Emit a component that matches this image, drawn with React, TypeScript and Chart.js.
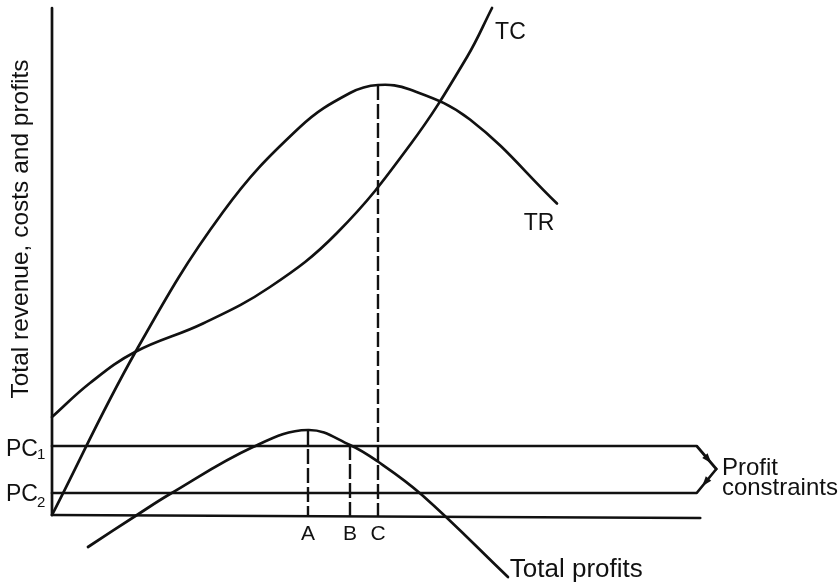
import React, { useEffect, useRef } from "react";
import { Chart, registerables } from "chart.js";

Chart.register(...registerables);

// Quantity (x) and value (y) readings, in arbitrary diagram units
const TR_X = [0, 12, 24.43, 35.43, 42.57, 46.57, 51.14, 59.71, 72.14];
const TR_Y = [0, 32.8, 60.6, 77.6, 84.4, 86, 85.1, 79.1, 62.3];

const TC_X = [0, 5.43, 11.86, 21.57, 31.14, 40.71, 51.14, 59.29, 62.86];
const TC_Y = [19.6, 26.4, 32.6, 38.3, 45.6, 56.4, 74, 91.6, 101.4];

const PROFIT_X = [5.14, 12.14, 16.86, 28.71, 36.57, 42.57, 46.43, 52.86, 65.14];
const PROFIT_Y = [-6.4, 0, 4.2, 13.6, 17, 14, 10.8, 4, -12.4];

const PC1 = 13.8;
const PC2 = 4.4;
const CONSTRAINT_END_X = 92.1;
const BRACKET_TIP = { x: 94.9, y: 9.2 };
const AXIS_TOP = 101.4;
const BASELINE_END = { x: 92.6, y: -0.6 };

const DROP_X = [36.57, 42.57, 46.57];
const DROP_TOP = [17, 14, 86];
const DROP_LABELS = ["A", "B", "C"];

const Y_TITLE = "Total revenue, costs and profits";

const pts = (xs: number[], ys: number[]) => xs.map((x, i) => ({ x, y: ys[i] }));

const solid = (data: { x: number; y: number }[], smooth = false) => ({
  data,
  showLine: true,
  borderColor: "#111",
  borderWidth: 2.7,
  pointRadius: 0,
  fill: false,
  clip: false as any,
  tension: smooth ? 0.4 : 0,
  borderCapStyle: "round" as const,
  borderJoinStyle: "round" as const,
});

const dashed = (data: { x: number; y: number }[]) => ({
  ...solid(data),
  borderWidth: 2.4,
  borderDash: [15, 4],
  borderCapStyle: "butt" as const,
});

const annotationPlugin = {
  id: "diagramText",
  afterDatasetsDraw(chart: any) {
    const { ctx } = chart;
    const xs = chart.scales.x;
    const ys = chart.scales.y;
    const px = (v: number) => xs.getPixelForValue(v);
    const py = (v: number) => ys.getPixelForValue(v);
    ctx.save();
    ctx.fillStyle = "#111";
    ctx.textBaseline = "alphabetic";
    const font = (s: number) => `${s}px "Liberation Sans", Arial, sans-serif`;

    // curve labels
    ctx.textAlign = "left";
    ctx.font = font(23);
    ctx.fillText("TC", px(63.3), py(95.2));
    ctx.fillText("TR", px(67.4), py(57));
    ctx.font = font(26);
    ctx.fillText("Total profits", px(65.4), py(-12.4));
    ctx.font = font(24);
    ctx.fillText("Profit", px(95.7), py(8));
    ctx.fillText("constraints", px(95.7), py(4));

    // PC labels
    ctx.font = font(23);
    ctx.fillText("PC", 6, py(PC1) + 10);
    ctx.fillText("PC", 6, py(PC2) + 8);
    ctx.font = font(15);
    ctx.fillText("1", 37, py(PC1) + 13);
    ctx.fillText("2", 37, py(PC2) + 14);

    // A, B, C
    ctx.textAlign = "center";
    ctx.font = font(21);
    DROP_X.forEach((x, i) => ctx.fillText(DROP_LABELS[i], px(x), py(-4.9)));

    // y title
    ctx.save();
    ctx.translate(21, 229);
    ctx.rotate(-Math.PI / 2);
    ctx.textAlign = "center";
    ctx.textBaseline = "middle";
    ctx.font = font(24.5);
    ctx.fillText(Y_TITLE, 0, 0);
    ctx.restore();

    // arrowheads on bracket
    const head = (fx: number, fy: number, tx: number, ty: number, t: number) => {
      const ax = px(fx), ay = py(fy), bx = px(tx), by = py(ty);
      const hx = ax + (bx - ax) * t, hy = ay + (by - ay) * t;
      const len = Math.hypot(bx - ax, by - ay);
      const ux = (bx - ax) / len, uy = (by - ay) / len;
      const L = 10, W = 3.5;
      ctx.beginPath();
      ctx.moveTo(hx, hy);
      ctx.lineTo(hx - ux * L - uy * W, hy - uy * L + ux * W);
      ctx.lineTo(hx - ux * L + uy * W, hy - uy * L - ux * W);
      ctx.closePath();
      ctx.fill();
    };
    head(CONSTRAINT_END_X, PC1, BRACKET_TIP.x, BRACKET_TIP.y, 0.75);
    head(BRACKET_TIP.x, BRACKET_TIP.y, CONSTRAINT_END_X, PC2, 0.72);
    ctx.restore();
  },
};

export default function App() {
  const ref = useRef<HTMLCanvasElement | null>(null);
  useEffect(() => {
    if (!ref.current) return;
    const datasets: any[] = [
      solid([{ x: 0, y: 0 }, { x: 0, y: AXIS_TOP }]),
      solid([{ x: 0, y: 0 }, BASELINE_END]),
      solid([{ x: 0, y: PC1 }, { x: CONSTRAINT_END_X, y: PC1 }, BRACKET_TIP]),
      solid([{ x: 0, y: PC2 }, { x: CONSTRAINT_END_X, y: PC2 }, BRACKET_TIP]),
      solid(pts(TR_X, TR_Y), true),
      solid(pts(TC_X, TC_Y), true),
      solid(pts(PROFIT_X, PROFIT_Y), true),
      ...DROP_X.map((x, i) => dashed([{ x, y: DROP_TOP[i] }, { x, y: -0.2 }])),
    ];
    const chart = new Chart(ref.current, {
      type: "scatter",
      data: { datasets },
      options: {
        responsive: false,
        animation: false,
        events: [],
        layout: { padding: { left: 52, right: 87, top: 5, bottom: 2 } },
        scales: {
          x: { type: "linear", min: 0, max: 100, display: false },
          y: { type: "linear", min: -13, max: 102, display: false },
        },
        plugins: { legend: { display: false }, tooltip: { enabled: false } },
      },
      plugins: [annotationPlugin],
    });
    return () => chart.destroy();
  }, []);
  return (
    <div style={{ position: "fixed", left: 0, top: 0, width: 839, height: 582, background: "#fff" }}>
      <canvas ref={ref} width={839} height={582} />
    </div>
  );
}
